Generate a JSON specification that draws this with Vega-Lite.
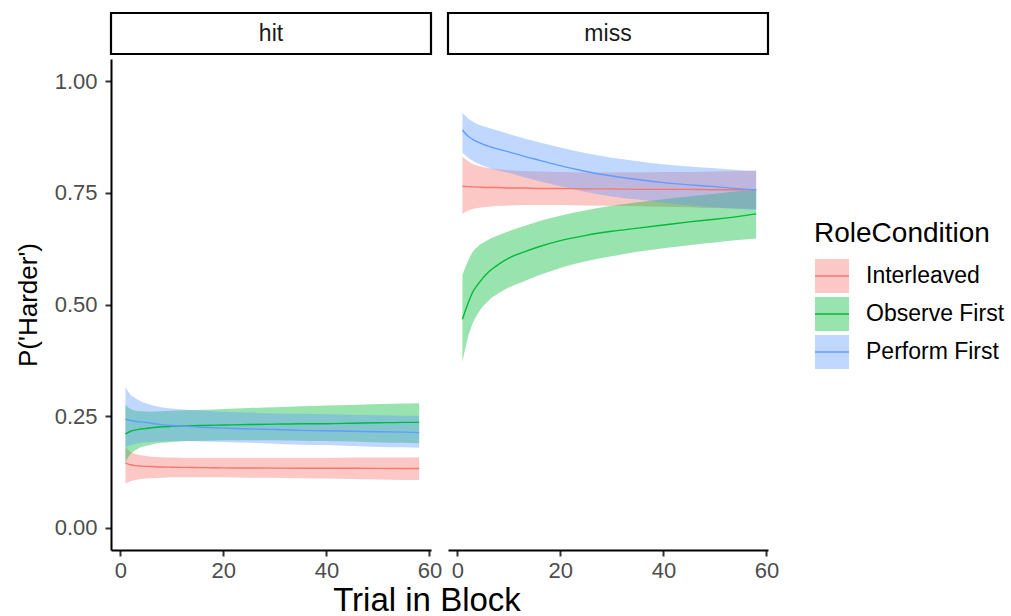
{
  "$schema": "https://vega.github.io/schema/vega-lite/v6.json",
  "padding": {"left": 15, "top": 11, "right": 5, "bottom": 2},
  "background": "white",
  "title": {
    "text": "Trial in Block",
    "orient": "bottom",
    "anchor": "start",
    "frame": "bounds",
    "dx": 318,
    "offset": 4,
    "font": "Liberation Sans",
    "fontSize": 33,
    "fontWeight": "normal",
    "color": "#000000"
  },
  "datasets": {
    "fits": [
      {"panel": "hit", "cond": "Interleaved", "trial": 1, "p": 0.1445, "lo": 0.099, "hi": 0.180},
      {"panel": "hit", "cond": "Interleaved", "trial": 2, "p": 0.141, "lo": 0.104, "hi": 0.170},
      {"panel": "hit", "cond": "Interleaved", "trial": 3, "p": 0.139, "lo": 0.107, "hi": 0.165},
      {"panel": "hit", "cond": "Interleaved", "trial": 4, "p": 0.138, "lo": 0.109, "hi": 0.162},
      {"panel": "hit", "cond": "Interleaved", "trial": 6, "p": 0.137, "lo": 0.111, "hi": 0.159},
      {"panel": "hit", "cond": "Interleaved", "trial": 8, "p": 0.136, "lo": 0.112, "hi": 0.158},
      {"panel": "hit", "cond": "Interleaved", "trial": 10, "p": 0.1355, "lo": 0.113, "hi": 0.157},
      {"panel": "hit", "cond": "Interleaved", "trial": 13, "p": 0.135, "lo": 0.113, "hi": 0.156},
      {"panel": "hit", "cond": "Interleaved", "trial": 16, "p": 0.1345, "lo": 0.113, "hi": 0.156},
      {"panel": "hit", "cond": "Interleaved", "trial": 20, "p": 0.134, "lo": 0.113, "hi": 0.156},
      {"panel": "hit", "cond": "Interleaved", "trial": 25, "p": 0.1337, "lo": 0.112, "hi": 0.156},
      {"panel": "hit", "cond": "Interleaved", "trial": 30, "p": 0.1335, "lo": 0.112, "hi": 0.156},
      {"panel": "hit", "cond": "Interleaved", "trial": 35, "p": 0.1333, "lo": 0.111, "hi": 0.156},
      {"panel": "hit", "cond": "Interleaved", "trial": 40, "p": 0.133, "lo": 0.110, "hi": 0.156},
      {"panel": "hit", "cond": "Interleaved", "trial": 45, "p": 0.133, "lo": 0.109, "hi": 0.157},
      {"panel": "hit", "cond": "Interleaved", "trial": 50, "p": 0.1328, "lo": 0.108, "hi": 0.157},
      {"panel": "hit", "cond": "Interleaved", "trial": 55, "p": 0.1327, "lo": 0.107, "hi": 0.157},
      {"panel": "hit", "cond": "Interleaved", "trial": 58, "p": 0.1326, "lo": 0.107, "hi": 0.158},

      {"panel": "hit", "cond": "Observe First", "trial": 1, "p": 0.210, "lo": 0.146, "hi": 0.275},
      {"panel": "hit", "cond": "Observe First", "trial": 2, "p": 0.216, "lo": 0.165, "hi": 0.266},
      {"panel": "hit", "cond": "Observe First", "trial": 3, "p": 0.219, "lo": 0.174, "hi": 0.262},
      {"panel": "hit", "cond": "Observe First", "trial": 4, "p": 0.221, "lo": 0.180, "hi": 0.261},
      {"panel": "hit", "cond": "Observe First", "trial": 6, "p": 0.224, "lo": 0.186, "hi": 0.260},
      {"panel": "hit", "cond": "Observe First", "trial": 8, "p": 0.226, "lo": 0.190, "hi": 0.261},
      {"panel": "hit", "cond": "Observe First", "trial": 10, "p": 0.227, "lo": 0.192, "hi": 0.262},
      {"panel": "hit", "cond": "Observe First", "trial": 13, "p": 0.228, "lo": 0.194, "hi": 0.263},
      {"panel": "hit", "cond": "Observe First", "trial": 16, "p": 0.229, "lo": 0.195, "hi": 0.264},
      {"panel": "hit", "cond": "Observe First", "trial": 20, "p": 0.230, "lo": 0.196, "hi": 0.266},
      {"panel": "hit", "cond": "Observe First", "trial": 25, "p": 0.231, "lo": 0.196, "hi": 0.268},
      {"panel": "hit", "cond": "Observe First", "trial": 30, "p": 0.232, "lo": 0.196, "hi": 0.270},
      {"panel": "hit", "cond": "Observe First", "trial": 35, "p": 0.233, "lo": 0.195, "hi": 0.272},
      {"panel": "hit", "cond": "Observe First", "trial": 40, "p": 0.233, "lo": 0.194, "hi": 0.274},
      {"panel": "hit", "cond": "Observe First", "trial": 45, "p": 0.234, "lo": 0.193, "hi": 0.275},
      {"panel": "hit", "cond": "Observe First", "trial": 50, "p": 0.235, "lo": 0.191, "hi": 0.277},
      {"panel": "hit", "cond": "Observe First", "trial": 55, "p": 0.236, "lo": 0.190, "hi": 0.278},
      {"panel": "hit", "cond": "Observe First", "trial": 58, "p": 0.236, "lo": 0.189, "hi": 0.279},

      {"panel": "hit", "cond": "Perform First", "trial": 1, "p": 0.243, "lo": 0.180, "hi": 0.315},
      {"panel": "hit", "cond": "Perform First", "trial": 2, "p": 0.240, "lo": 0.185, "hi": 0.298},
      {"panel": "hit", "cond": "Perform First", "trial": 3, "p": 0.238, "lo": 0.188, "hi": 0.290},
      {"panel": "hit", "cond": "Perform First", "trial": 4, "p": 0.237, "lo": 0.190, "hi": 0.283},
      {"panel": "hit", "cond": "Perform First", "trial": 6, "p": 0.234, "lo": 0.192, "hi": 0.275},
      {"panel": "hit", "cond": "Perform First", "trial": 8, "p": 0.231, "lo": 0.193, "hi": 0.270},
      {"panel": "hit", "cond": "Perform First", "trial": 10, "p": 0.229, "lo": 0.194, "hi": 0.267},
      {"panel": "hit", "cond": "Perform First", "trial": 13, "p": 0.227, "lo": 0.194, "hi": 0.264},
      {"panel": "hit", "cond": "Perform First", "trial": 16, "p": 0.225, "lo": 0.193, "hi": 0.262},
      {"panel": "hit", "cond": "Perform First", "trial": 20, "p": 0.223, "lo": 0.192, "hi": 0.260},
      {"panel": "hit", "cond": "Perform First", "trial": 25, "p": 0.221, "lo": 0.190, "hi": 0.258},
      {"panel": "hit", "cond": "Perform First", "trial": 30, "p": 0.220, "lo": 0.188, "hi": 0.256},
      {"panel": "hit", "cond": "Perform First", "trial": 35, "p": 0.218, "lo": 0.186, "hi": 0.255},
      {"panel": "hit", "cond": "Perform First", "trial": 40, "p": 0.217, "lo": 0.185, "hi": 0.254},
      {"panel": "hit", "cond": "Perform First", "trial": 45, "p": 0.216, "lo": 0.183, "hi": 0.253},
      {"panel": "hit", "cond": "Perform First", "trial": 50, "p": 0.215, "lo": 0.181, "hi": 0.252},
      {"panel": "hit", "cond": "Perform First", "trial": 55, "p": 0.214, "lo": 0.180, "hi": 0.251},
      {"panel": "hit", "cond": "Perform First", "trial": 58, "p": 0.213, "lo": 0.179, "hi": 0.251},

      {"panel": "miss", "cond": "Interleaved", "trial": 1, "p": 0.765, "lo": 0.703, "hi": 0.831},
      {"panel": "miss", "cond": "Interleaved", "trial": 2, "p": 0.764, "lo": 0.710, "hi": 0.822},
      {"panel": "miss", "cond": "Interleaved", "trial": 3, "p": 0.7635, "lo": 0.714, "hi": 0.815},
      {"panel": "miss", "cond": "Interleaved", "trial": 4, "p": 0.763, "lo": 0.716, "hi": 0.811},
      {"panel": "miss", "cond": "Interleaved", "trial": 6, "p": 0.762, "lo": 0.719, "hi": 0.806},
      {"panel": "miss", "cond": "Interleaved", "trial": 8, "p": 0.762, "lo": 0.721, "hi": 0.803},
      {"panel": "miss", "cond": "Interleaved", "trial": 10, "p": 0.761, "lo": 0.722, "hi": 0.801},
      {"panel": "miss", "cond": "Interleaved", "trial": 13, "p": 0.761, "lo": 0.723, "hi": 0.799},
      {"panel": "miss", "cond": "Interleaved", "trial": 16, "p": 0.760, "lo": 0.723, "hi": 0.798},
      {"panel": "miss", "cond": "Interleaved", "trial": 20, "p": 0.760, "lo": 0.723, "hi": 0.797},
      {"panel": "miss", "cond": "Interleaved", "trial": 25, "p": 0.759, "lo": 0.722, "hi": 0.796},
      {"panel": "miss", "cond": "Interleaved", "trial": 30, "p": 0.759, "lo": 0.721, "hi": 0.796},
      {"panel": "miss", "cond": "Interleaved", "trial": 35, "p": 0.758, "lo": 0.720, "hi": 0.796},
      {"panel": "miss", "cond": "Interleaved", "trial": 40, "p": 0.758, "lo": 0.719, "hi": 0.797},
      {"panel": "miss", "cond": "Interleaved", "trial": 45, "p": 0.758, "lo": 0.718, "hi": 0.797},
      {"panel": "miss", "cond": "Interleaved", "trial": 50, "p": 0.757, "lo": 0.716, "hi": 0.798},
      {"panel": "miss", "cond": "Interleaved", "trial": 55, "p": 0.757, "lo": 0.715, "hi": 0.799},
      {"panel": "miss", "cond": "Interleaved", "trial": 58, "p": 0.757, "lo": 0.714, "hi": 0.800},

      {"panel": "miss", "cond": "Observe First", "trial": 1, "p": 0.467, "lo": 0.371, "hi": 0.566},
      {"panel": "miss", "cond": "Observe First", "trial": 2, "p": 0.500, "lo": 0.423, "hi": 0.595},
      {"panel": "miss", "cond": "Observe First", "trial": 3, "p": 0.528, "lo": 0.458, "hi": 0.618},
      {"panel": "miss", "cond": "Observe First", "trial": 4, "p": 0.545, "lo": 0.480, "hi": 0.630},
      {"panel": "miss", "cond": "Observe First", "trial": 6, "p": 0.572, "lo": 0.508, "hi": 0.645},
      {"panel": "miss", "cond": "Observe First", "trial": 8, "p": 0.590, "lo": 0.525, "hi": 0.655},
      {"panel": "miss", "cond": "Observe First", "trial": 10, "p": 0.604, "lo": 0.538, "hi": 0.664},
      {"panel": "miss", "cond": "Observe First", "trial": 13, "p": 0.618, "lo": 0.552, "hi": 0.676},
      {"panel": "miss", "cond": "Observe First", "trial": 16, "p": 0.630, "lo": 0.566, "hi": 0.687},
      {"panel": "miss", "cond": "Observe First", "trial": 20, "p": 0.643, "lo": 0.582, "hi": 0.699},
      {"panel": "miss", "cond": "Observe First", "trial": 25, "p": 0.655, "lo": 0.597, "hi": 0.711},
      {"panel": "miss", "cond": "Observe First", "trial": 30, "p": 0.664, "lo": 0.608, "hi": 0.721},
      {"panel": "miss", "cond": "Observe First", "trial": 35, "p": 0.671, "lo": 0.618, "hi": 0.729},
      {"panel": "miss", "cond": "Observe First", "trial": 40, "p": 0.678, "lo": 0.626, "hi": 0.736},
      {"panel": "miss", "cond": "Observe First", "trial": 45, "p": 0.685, "lo": 0.633, "hi": 0.742},
      {"panel": "miss", "cond": "Observe First", "trial": 50, "p": 0.691, "lo": 0.639, "hi": 0.748},
      {"panel": "miss", "cond": "Observe First", "trial": 55, "p": 0.698, "lo": 0.645, "hi": 0.754},
      {"panel": "miss", "cond": "Observe First", "trial": 58, "p": 0.703, "lo": 0.648, "hi": 0.757},

      {"panel": "miss", "cond": "Perform First", "trial": 1, "p": 0.891, "lo": 0.840, "hi": 0.929},
      {"panel": "miss", "cond": "Perform First", "trial": 2, "p": 0.878, "lo": 0.830, "hi": 0.918},
      {"panel": "miss", "cond": "Perform First", "trial": 3, "p": 0.870, "lo": 0.822, "hi": 0.910},
      {"panel": "miss", "cond": "Perform First", "trial": 4, "p": 0.864, "lo": 0.816, "hi": 0.904},
      {"panel": "miss", "cond": "Perform First", "trial": 6, "p": 0.855, "lo": 0.807, "hi": 0.896},
      {"panel": "miss", "cond": "Perform First", "trial": 8, "p": 0.848, "lo": 0.800, "hi": 0.889},
      {"panel": "miss", "cond": "Perform First", "trial": 10, "p": 0.842, "lo": 0.795, "hi": 0.882},
      {"panel": "miss", "cond": "Perform First", "trial": 13, "p": 0.832, "lo": 0.785, "hi": 0.872},
      {"panel": "miss", "cond": "Perform First", "trial": 16, "p": 0.823, "lo": 0.776, "hi": 0.863},
      {"panel": "miss", "cond": "Perform First", "trial": 20, "p": 0.811, "lo": 0.765, "hi": 0.852},
      {"panel": "miss", "cond": "Perform First", "trial": 25, "p": 0.798, "lo": 0.752, "hi": 0.839},
      {"panel": "miss", "cond": "Perform First", "trial": 30, "p": 0.788, "lo": 0.742, "hi": 0.829},
      {"panel": "miss", "cond": "Perform First", "trial": 35, "p": 0.780, "lo": 0.735, "hi": 0.821},
      {"panel": "miss", "cond": "Perform First", "trial": 40, "p": 0.773, "lo": 0.728, "hi": 0.814},
      {"panel": "miss", "cond": "Perform First", "trial": 45, "p": 0.768, "lo": 0.722, "hi": 0.809},
      {"panel": "miss", "cond": "Perform First", "trial": 50, "p": 0.764, "lo": 0.718, "hi": 0.805},
      {"panel": "miss", "cond": "Perform First", "trial": 55, "p": 0.759, "lo": 0.714, "hi": 0.801},
      {"panel": "miss", "cond": "Perform First", "trial": 58, "p": 0.757, "lo": 0.712, "hi": 0.799}
    ]
  },
  "config": {
    "font": "Liberation Sans",
    "view": {"stroke": null},
    "axis": {
      "grid": false,
      "domainColor": "#000000",
      "domainWidth": 2,
      "tickColor": "#333333",
      "tickWidth": 2,
      "tickSize": 6,
      "labelColor": "#4D4D4D",
      "labelFontSize": 22,
      "labelPadding": 4,
      "titleColor": "#000000",
      "titleFontSize": 26,
      "titleFontWeight": "normal"
    },
    "legend": {
      "titleFontSize": 28,
      "titleFontWeight": "normal",
      "titleColor": "#000000",
      "labelFontSize": 23,
      "labelColor": "#000000",
      "layout": {"right": {"anchor": "middle"}}
    }
  },
  "resolve": {"scale": {"color": "shared"}, "legend": {"color": "shared"}},
  "spacing": 4,
  "hconcat": [
    {
      "spacing": 3,
      "vconcat": [
        {
          "width": 320,
          "height": 41,
          "view": {"stroke": "#000000", "strokeWidth": 2.2, "fill": "white"},
          "data": {"values": [{"panel": "hit"}]},
          "mark": {"type": "text", "fontSize": 23, "color": "#1A1A1A"},
          "encoding": {"text": {"field": "panel", "type": "nominal"}}
        },
        {
          "width": 320,
          "height": 491,
          "data": {"name": "fits"},
          "transform": [{"filter": "datum.panel === 'hit'"}],
          "encoding": {
            "x": {
              "field": "trial",
              "type": "quantitative",
              "scale": {"domain": [-1.8, 60.3], "nice": false, "zero": false},
              "axis": {"values": [0, 20, 40, 60], "title": null}
            },
            "color": {
              "field": "cond",
              "type": "nominal",
              "scale": {"domain": ["Interleaved", "Observe First", "Perform First"], "range": ["#F8766D", "#00BA38", "#619CFF"]},
              "legend": {
                "title": "RoleCondition",
                "offset": 35,
                "symbolType": "M-1,0L1,0L1,-1L-1,-1L-1,1L1,1L1,0Z",
                "symbolSize": 1156,
                "symbolStrokeWidth": 1.3,
                "symbolDash": [34, 400],
                "rowPadding": -4,
                "labelOffset": 16,
                "titlePadding": 10,
                "encode": {"symbols": {"update": {
                  "fill": {"scale": "color", "field": "value"},
                  "fillOpacity": {"value": 0.4},
                  "stroke": {"scale": "color", "field": "value"},
                  "strokeOpacity": {"value": 1},
                  "opacity": {"value": 1}
                }}}
              }
            }
          },
          "layer": [
            {
              "mark": {"type": "area", "fillOpacity": 0.4, "interpolate": "monotone"},
              "encoding": {
                "y": {
                  "field": "lo",
                  "type": "quantitative",
                  "scale": {"domain": [-0.05, 1.05], "nice": false, "zero": false},
                  "axis": {"values": [0, 0.25, 0.5, 0.75, 1], "format": ".2f", "title": "P('Harder')", "labelPadding": 8, "titlePadding": 13}
                },
                "y2": {"field": "hi"}
              }
            },
            {
              "mark": {"type": "line", "strokeWidth": 1.4, "interpolate": "monotone"},
              "encoding": {
                "y": {
                  "field": "p",
                  "type": "quantitative",
                  "scale": {"domain": [-0.05, 1.05], "nice": false, "zero": false},
                  "axis": {"values": [0, 0.25, 0.5, 0.75, 1], "format": ".2f", "title": "P('Harder')", "labelPadding": 8, "titlePadding": 13}
                }
              }
            }
          ]
        }
      ]
    },
    {
      "spacing": 3,
      "vconcat": [
        {
          "width": 320,
          "height": 41,
          "view": {"stroke": "#000000", "strokeWidth": 2.2, "fill": "white"},
          "data": {"values": [{"panel": "miss"}]},
          "mark": {"type": "text", "fontSize": 23, "color": "#1A1A1A"},
          "encoding": {"text": {"field": "panel", "type": "nominal"}}
        },
        {
          "width": 320,
          "height": 491,
          "data": {"name": "fits"},
          "transform": [{"filter": "datum.panel === 'miss'"}],
          "encoding": {
            "x": {
              "field": "trial",
              "type": "quantitative",
              "scale": {"domain": [-1.8, 60.3], "nice": false, "zero": false},
              "axis": {"values": [0, 20, 40, 60], "title": null}
            },
            "color": {
              "field": "cond",
              "type": "nominal",
              "scale": {"domain": ["Interleaved", "Observe First", "Perform First"], "range": ["#F8766D", "#00BA38", "#619CFF"]},
              "legend": {
                "title": "RoleCondition",
                "offset": 35,
                "symbolType": "M-1,0L1,0L1,-1L-1,-1L-1,1L1,1L1,0Z",
                "symbolSize": 1156,
                "symbolStrokeWidth": 1.3,
                "symbolDash": [34, 400],
                "rowPadding": -4,
                "labelOffset": 16,
                "titlePadding": 10,
                "encode": {"symbols": {"update": {
                  "fill": {"scale": "color", "field": "value"},
                  "fillOpacity": {"value": 0.4},
                  "stroke": {"scale": "color", "field": "value"},
                  "strokeOpacity": {"value": 1},
                  "opacity": {"value": 1}
                }}}
              }
            }
          },
          "layer": [
            {
              "mark": {"type": "area", "fillOpacity": 0.4, "interpolate": "monotone"},
              "encoding": {
                "y": {
                  "field": "lo",
                  "type": "quantitative",
                  "scale": {"domain": [-0.05, 1.05], "nice": false, "zero": false},
                  "axis": null
                },
                "y2": {"field": "hi"}
              }
            },
            {
              "mark": {"type": "line", "strokeWidth": 1.4, "interpolate": "monotone"},
              "encoding": {
                "y": {
                  "field": "p",
                  "type": "quantitative",
                  "scale": {"domain": [-0.05, 1.05], "nice": false, "zero": false},
                  "axis": null
                }
              }
            }
          ]
        }
      ]
    }
  ]
}
